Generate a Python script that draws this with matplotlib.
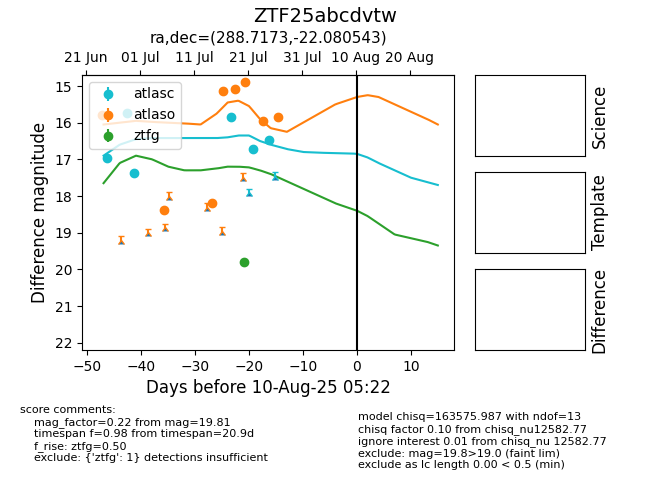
import matplotlib
matplotlib.use("Agg")
import matplotlib.pyplot as plt
import numpy as np

# detections: days before peak, magnitude
atlasc_x = [-46.3, -42.6, -41.3, -23.3, -19.2, -16.3]
atlasc_y = [16.97, 15.74, 17.38, 15.84, 16.72, 16.47]
atlaso_x = [-47.2, -35.8, -26.8, -24.8, -22.6, -20.8, -17.5, -14.7]
atlaso_y = [15.8, 18.38, 18.19, 15.14, 15.08, 14.89, 15.95, 15.84]
ztfg_x = [-20.9]
ztfg_y = [19.8]

# upper limits
atlasc_lim_x = [-20.1, -15.2]
atlasc_lim_y = [17.8, 17.35]
atlaso_lim_x = [-43.7, -38.8, -35.6, -34.9, -27.9, -25.0, -21.1]
atlaso_lim_y = [19.1, 18.9, 18.75, 17.9, 18.2, 18.85, 17.38]

# model curves
curve_x = [-47, -44, -41, -38, -35, -32, -29, -26, -24, -22, -20, -18, -16, -13, -10, -7,
           -4, -1, 0, 2, 4, 7, 10, 13, 15]
orange_y = [16.05, 16.0, 15.95, 15.98, 16.0, 16.02, 16.05, 15.75, 15.45, 15.4, 15.55, 15.9, 16.15,
            16.25, 16.0, 15.75, 15.5, 15.35, 15.3, 15.25, 15.3, 15.5, 15.7, 15.9, 16.05]
cyan_y = [16.9, 16.6, 16.45, 16.42, 16.42, 16.42, 16.42, 16.42, 16.4, 16.35, 16.35, 16.5, 16.6,
          16.72, 16.8, 16.82, 16.83, 16.84, 16.85, 16.95, 17.1, 17.3, 17.5, 17.62, 17.7]
green_y = [17.65, 17.1, 16.9, 17.0, 17.2, 17.3, 17.3, 17.25, 17.2, 17.2, 17.22, 17.3, 17.4,
           17.6, 17.8, 18.0, 18.2, 18.35, 18.4, 18.55, 18.75, 19.05, 19.15, 19.25, 19.35]

top_ticks = ["21 Jun", "01 Jul", "11 Jul", "21 Jul", "31 Jul", "10 Aug", "20 Aug"]
top_pos = [-50.22, -40.22, -30.22, -20.22, -10.22, -0.22, 9.78]

left_text = ("score comments:\n"
             "    mag_factor=0.22 from mag=19.81\n"
             "    timespan f=0.98 from timespan=20.9d\n"
             "    f_rise: ztfg=0.50\n"
             "    exclude: {'ztfg': 1} detections insufficient")
right_text = ("model chisq=163575.987 with ndof=13\n"
              "chisq factor 0.10 from chisq_nu12582.77\n"
              "ignore interest 0.01 from chisq_nu 12582.77\n"
              "exclude: mag=19.8>19.0 (faint lim)\n"
              "exclude as lc length 0.00 < 0.5 (min)")

c_cyan, c_orange, c_green = "#17becf", "#ff7f0e", "#2ca02c"

fig = plt.figure(figsize=(6.5, 5.0), dpi=100)
ax = fig.add_axes([82 / 650, 150 / 500, 372 / 650, 275 / 500])

xs = np.linspace(-47, 15, 300)
ax.plot(xs, np.interp(xs, curve_x, orange_y), color=c_orange)
ax.plot(xs, np.interp(xs, curve_x, cyan_y), color=c_cyan)
ax.plot(xs, np.interp(xs, curve_x, green_y), color=c_green)

ax.errorbar(atlasc_x, atlasc_y, yerr=0.05, fmt="o", color=c_cyan, label="atlasc")
ax.errorbar(atlaso_x, atlaso_y, yerr=0.05, fmt="o", color=c_orange, label="atlaso")
ax.errorbar(ztfg_x, ztfg_y, yerr=0.05, fmt="o", color=c_green, label="ztfg")
ax.errorbar(atlasc_lim_x, atlasc_lim_y, yerr=0.2, lolims=True, fmt="none", ecolor=c_cyan, capsize=2)
ax.errorbar(atlaso_lim_x, atlaso_lim_y, yerr=0.2, lolims=True, fmt="none", ecolor=c_orange, capsize=2)

ax.axvline(0, color="black")
ax.set_xlim(-51, 18)
ax.set_ylim(22.2, 14.7)
ax.set_xticks([-50, -40, -30, -20, -10, 0, 10])
ax.set_xlabel("Days before 10-Aug-25 05:22", fontsize=12)
ax.set_ylabel("Difference magnitude", fontsize=12)
ax.legend(loc="upper left")

top = ax.secondary_xaxis("top")
top.set_xticks(top_pos)
top.set_xticklabels(top_ticks)
ax.set_title("ra,dec=(288.7173,-22.080543)", fontsize=11)
fig.suptitle("ZTF25abcdvtw", fontsize=14, y=0.985)

for i, name in enumerate(["Science", "Template", "Difference"]):
    b = fig.add_axes([475 / 650, (344 - i * 97) / 500, 110 / 650, 81 / 500])
    b.set_xticks([])
    b.set_yticks([])
    b.yaxis.set_label_position("right")
    b.set_ylabel(name, fontsize=12)

fig.text(20 / 650, 1 - 405 / 500, left_text, fontsize=8, va="top")
fig.text(358 / 650, 1 - 412 / 500, right_text, fontsize=8, va="top")

fig.savefig("out.png")
